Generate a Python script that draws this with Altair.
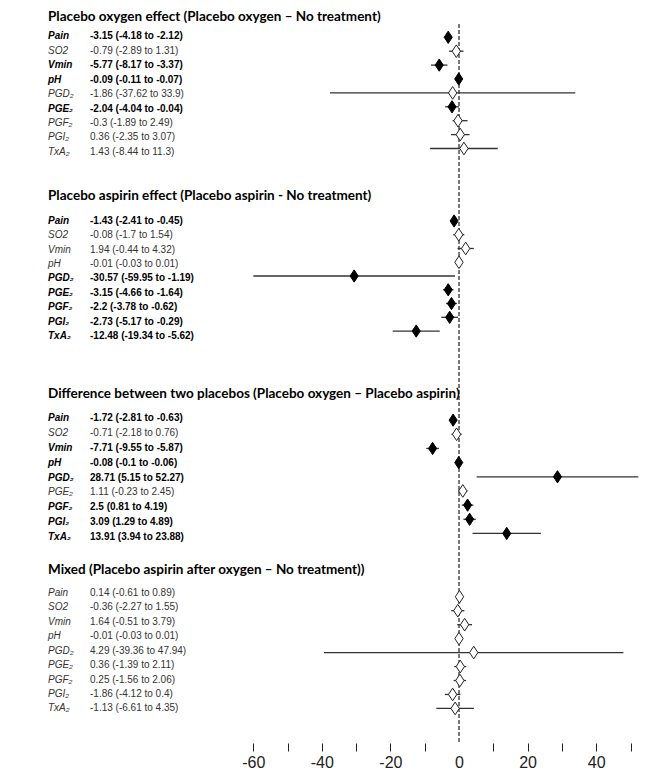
import altair as alt
import pandas as pd

# ---------------- data ----------------
row_labels = ["Pain", "SO2", "Vmin", "pH", "PGD₂", "PGE₂", "PGF₂", "PGI₂", "TxA₂"]

section_titles = [
    "Placebo oxygen effect (Placebo oxygen – No treatment)",
    "Placebo aspirin effect (Placebo aspirin - No treatment)",
    "Difference between two placebos (Placebo oxygen – Placebo aspirin)",
    "Mixed (Placebo aspirin after oxygen – No treatment))",
]

s1_est = [-3.15, -0.79, -5.77, -0.09, -1.86, -2.04, -0.3, 0.36, 1.43]
s1_lo = [-4.18, -2.89, -8.17, -0.11, -37.62, -4.04, -1.89, -2.35, -8.44]
s1_hi = [-2.12, 1.31, -3.37, -0.07, 33.9, -0.04, 2.49, 3.07, 11.3]
s1_sig = [1, 0, 1, 1, 0, 1, 0, 0, 0]

s2_est = [-1.43, -0.08, 1.94, -0.01, -30.57, -3.15, -2.2, -2.73, -12.48]
s2_lo = [-2.41, -1.7, -0.44, -0.03, -59.95, -4.66, -3.78, -5.17, -19.34]
s2_hi = [-0.45, 1.54, 4.32, 0.01, -1.19, -1.64, -0.62, -0.29, -5.62]
s2_sig = [1, 0, 0, 0, 1, 1, 1, 1, 1]

s3_est = [-1.72, -0.71, -7.71, -0.08, 28.71, 1.11, 2.5, 3.09, 13.91]
s3_lo = [-2.81, -2.18, -9.55, -0.1, 5.15, -0.23, 0.81, 1.29, 3.94]
s3_hi = [-0.63, 0.76, -5.87, -0.06, 52.27, 2.45, 4.19, 4.89, 23.88]
s3_sig = [1, 0, 1, 1, 1, 0, 1, 1, 1]

s4_est = [0.14, -0.36, 1.64, -0.01, 4.29, 0.36, 0.25, -1.86, -1.13]
s4_lo = [-0.61, -2.27, -0.51, -0.03, -39.36, -1.39, -1.56, -4.12, -6.61]
s4_hi = [0.89, 1.55, 3.79, 0.01, 47.94, 2.11, 2.06, 0.4, 4.35]
s4_sig = [0, 0, 0, 0, 0, 0, 0, 0, 0]

axis_ticks = [-60, -50, -40, -30, -20, -10, 0, 10, 20, 30, 40, 50]

# ---------------- layout (row slots) ----------------
title_slot = [0.4, 12.73, 26.46, 38.64]
text_start = [1.7, 14.46, 28.14, 40.21]
text_step = [1.0, 1.0, 1.024, 1.0]
mark_start = [1.77, 14.48, 28.26, 40.48]
mark_step = [0.962, 0.952, 0.98, 0.966]

sections = [
    (s1_est, s1_lo, s1_hi, s1_sig),
    (s2_est, s2_lo, s2_hi, s2_sig),
    (s3_est, s3_lo, s3_hi, s3_sig),
    (s4_est, s4_lo, s4_hi, s4_sig),
]

rows = []
for k, (est, lo, hi, sig) in enumerate(sections):
    for i, lab in enumerate(row_labels):
        rows.append({
            "label": lab,
            "est": est[i],
            "lo": lo[i],
            "hi": hi[i],
            "sig": sig[i],
            "vtext": f"{est[i]} ({lo[i]} to {hi[i]})",
            "ty": text_start[k] + i * text_step[k],
            "my": mark_start[k] + i * mark_step[k],
        })
df = pd.DataFrame(rows)
titles_df = pd.DataFrame({"title": section_titles, "ty": title_slot})
ref_df = pd.DataFrame({"x": [0], "y": [0.85], "y2": [50.6]})

# ---------------- scales ----------------
xscale = alt.Scale(domain=[-131.5, 53.35], nice=False, zero=False)
yscale = alt.Scale(domain=[-0.256, 50.6], nice=False, zero=False, reverse=True)
xaxis = alt.Axis(
    values=axis_ticks,
    labelExpr="datum.value % 20 === 0 ? toString(datum.value) : ''",
    domain=False, grid=False, tickSize=8, tickWidth=1,
    tickColor={"condition": {"test": "datum.value === 0", "value": "transparent"}, "value": "#222"},
    labelFont="Liberation Sans", labelFontSize=16, labelColor="#222",
    labelPadding=3, labelOverlap=False, title=None,
)

X = lambda f: alt.X(f, type="quantitative", scale=xscale, axis=xaxis)
Y = lambda f: alt.Y(f, type="quantitative", scale=yscale, axis=None)

ref = alt.Chart(ref_df).mark_rule(color="#333", strokeWidth=1.3, strokeDash=[4, 2]).encode(
    x=X("x"), y=Y("y"), y2="y2"
)

ci = alt.Chart(df).mark_rule(color="#333", strokeWidth=1.3).encode(
    x=X("lo"), x2="hi", y=Y("my")
)

diamond = "M0,-1L0.66,0L0,1L-0.66,0Z"
pts_open = alt.Chart(df).transform_filter("datum.sig == 0").mark_point(
    shape=diamond, size=160, filled=True, fill="white", stroke="#222", strokeWidth=1, opacity=1
).encode(x=X("est"), y=Y("my"))
pts_fill = alt.Chart(df).transform_filter("datum.sig == 1").mark_point(
    shape=diamond, size=150, filled=True, fill="black", stroke="black", strokeWidth=1, opacity=1
).encode(x=X("est"), y=Y("my"))

titles = alt.Chart(titles_df).mark_text(
    font="Lato", fontSize=13.5, fontWeight="bold", align="left", baseline="middle", color="black"
).encode(x=alt.value(40), y=Y("ty"), text="title:N")

lab_n = alt.Chart(df).transform_filter("datum.sig == 0").mark_text(
    font="Liberation Sans", fontSize=10, fontStyle="italic", align="left", baseline="middle", color="#333"
).encode(x=alt.value(40), y=Y("ty"), text="label:N")
lab_b = alt.Chart(df).transform_filter("datum.sig == 1").mark_text(
    font="Liberation Sans", fontSize=10, fontStyle="italic", fontWeight="bold", align="left",
    baseline="middle", color="black"
).encode(x=alt.value(40), y=Y("ty"), text="label:N")
val_n = alt.Chart(df).transform_filter("datum.sig == 0").mark_text(
    font="Liberation Sans", fontSize=10, align="left", baseline="middle", color="#333"
).encode(x=alt.value(82), y=Y("ty"), text="vtext:N")
val_b = alt.Chart(df).transform_filter("datum.sig == 1").mark_text(
    font="Liberation Sans", fontSize=10, fontWeight="bold", align="left", baseline="middle", color="black"
).encode(x=alt.value(82), y=Y("ty"), text="vtext:N")

chart = alt.layer(ref, ci, pts_open, pts_fill, titles, lab_n, lab_b, val_n, val_b).properties(
    width=634, height=735,
    autosize=alt.AutoSizeParams(type="none"),
    padding={"left": 0, "top": 0, "right": 0, "bottom": 38},
    background="white",
).configure_view(stroke=None)

chart.save("out.html", embed_options={"renderer": "svg", "actions": False})
